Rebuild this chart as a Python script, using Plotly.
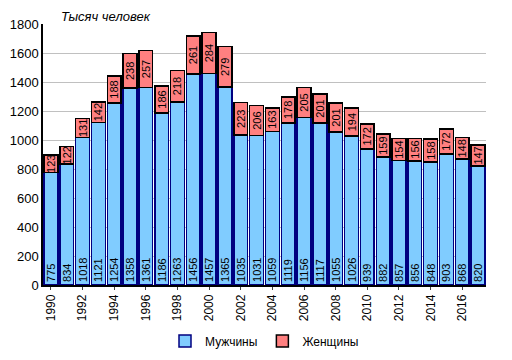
import plotly.graph_objects as go

years = list(range(1990, 2018))
men = [775, 834, 1018, 1121, 1254, 1358, 1361, 1186, 1263, 1456, 1457, 1365, 1035, 1031,
       1059, 1119, 1156, 1117, 1055, 1026, 939, 882, 857, 856, 848, 903, 868, 820]
women = [123, 122, 131, 142, 188, 238, 257, 186, 218, 261, 284, 279, 223, 206,
         163, 178, 205, 201, 201, 194, 172, 159, 154, 156, 158, 172, 148, 147]
tick_years = list(range(1990, 2018, 2))

font_family = "Liberation Sans, Arial, sans-serif"

fig = go.Figure()
fig.add_trace(go.Bar(
    x=years, y=men, name="Мужчины",
    marker=dict(color="#80CCFF", line=dict(color="#000080", width=1.5)),
    text=[str(v) for v in men], textposition="inside", insidetextanchor="start",
    textangle=-90, textfont=dict(family=font_family, size=11, color="black"),
))
fig.add_trace(go.Bar(
    x=years, y=women, name="Женщины",
    marker=dict(color="#FF8080", line=dict(color="black", width=1.5)),
    text=[str(v) for v in women], textposition="inside", insidetextanchor="middle",
    textangle=-90, textfont=dict(family=font_family, size=11, color="black"),
))

fig.update_layout(
    barmode="stack", bargap=0.13,
    width=504, height=352,
    margin=dict(l=35, r=26, t=16, b=75),
    paper_bgcolor="white", plot_bgcolor="white",
    font=dict(family=font_family, size=12, color="black"),
    uniformtext=dict(minsize=11, mode="show"),
    showlegend=True,
    legend=dict(orientation="h", x=0.5, xanchor="center", yref="container",
                y=0.054, yanchor="middle", font=dict(size=12), traceorder="normal"),
    annotations=[dict(text="<i>Тысяч человек</i>", xref="paper", yref="paper",
                      x=0.035, y=1.0, xanchor="left", yanchor="bottom", yshift=-2,
                      showarrow=False, font=dict(size=13, family=font_family))],
)
fig.update_xaxes(
    range=[1989.5, 2017.5], tickvals=tick_years, ticktext=[str(y) for y in tick_years],
    tickangle=-90, showline=True, linecolor="black", linewidth=1.5, automargin=False,
    showgrid=False, ticks="outside", ticklen=3, tickfont=dict(size=12),
)
fig.update_yaxes(
    range=[0, 1800], dtick=200, showline=True, linecolor="black", linewidth=1.5,
    showgrid=True, gridcolor="#C0C0C0", gridwidth=1, ticks="", tickfont=dict(size=13),
    zeroline=False, automargin=False,
)

fig.write_html("out.html")
